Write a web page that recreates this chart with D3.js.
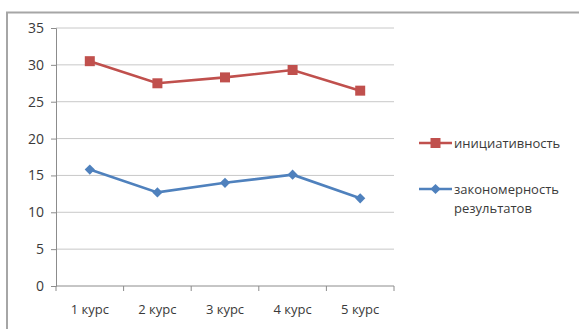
<!DOCTYPE html>
<html>
<head>
<meta charset="utf-8">
<script src="https://cdn.jsdelivr.net/npm/d3@7"></script>
<style>
  html, body { margin: 0; padding: 0; background: #fff; }
  svg { display: block; }
  text { font-family: "Open Sans", "Liberation Sans", sans-serif; fill: #3a3a3a; }
</style>
</head>
<body>
<svg id="chart" width="579" height="329"></svg>
<script>
const categories = ["1 курс", "2 курс", "3 курс", "4 курс", "5 курс"];
const initiative = [30.5, 27.5, 28.3, 29.3, 26.5];
const regularity = [15.8, 12.7, 14.0, 15.1, 11.9];
const yTicks = [0, 5, 10, 15, 20, 25, 30, 35];
const seriesNames = ["инициативность", ["закономерность", "результатов"]];

const svg = d3.select("#chart");
const W = 579, H = 329;
const plot = { left: 56, right: 394, top: 28, bottom: 286 };

// outer chart frame
svg.append("rect").attr("x", 7).attr("y", 12.5).attr("width", W + 10).attr("height", H + 10)
  .attr("fill", "#fff").attr("stroke", "#a6a6a6").attr("stroke-width", 2);

const x = d3.scaleBand().domain(categories).range([plot.left, plot.right]);
const y = d3.scaleLinear().domain([0, 35]).range([plot.bottom, plot.top]);

// horizontal gridlines
svg.append("g").selectAll("line").data(yTicks.filter(d => d > 0)).join("line")
  .attr("x1", plot.left).attr("x2", plot.right)
  .attr("y1", d => y(d)).attr("y2", d => y(d))
  .attr("stroke", "#c8c8c8").attr("stroke-width", 1);

// y axis
const yAxis = svg.append("g").attr("transform", `translate(${plot.left},0)`)
  .call(d3.axisLeft(y).tickValues(yTicks).tickSize(5).tickPadding(7));
yAxis.select(".domain").attr("stroke", "#8c8c8c");
yAxis.selectAll(".tick line").attr("stroke", "#8c8c8c");
yAxis.selectAll(".tick text").attr("font-size", 14).attr("fill", "#3a3a3a")
  .attr("font-family", '"Open Sans", "Liberation Sans", sans-serif');

// x axis with boundary ticks
const xg = svg.append("g").attr("transform", `translate(0,${plot.bottom})`);
xg.append("line").attr("x1", plot.left).attr("x2", plot.right).attr("y1", 0).attr("y2", 0)
  .attr("stroke", "#8c8c8c");
const bounds = categories.map(c => x(c)).concat([x(categories[categories.length - 1]) + x.bandwidth()]);
xg.selectAll(".tk").data(bounds).join("line").attr("class", "tk")
  .attr("x1", d => d).attr("x2", d => d).attr("y1", 0).attr("y2", 5)
  .attr("stroke", "#8c8c8c");
xg.selectAll("text").data(categories).join("text")
  .attr("x", d => x(d) + x.bandwidth() / 2).attr("y", 27.5)
  .attr("text-anchor", "middle").attr("font-size", 13).text(d => d);

const cx = d => x(d) + x.bandwidth() / 2;
const line = d3.line().x((d, i) => cx(categories[i])).y(d => y(d));

const red = "#c0504d", blue = "#4f81bd";

// series lines
svg.append("path").datum(initiative).attr("d", line)
  .attr("fill", "none").attr("stroke", red).attr("stroke-width", 2.6);
svg.append("path").datum(regularity).attr("d", line)
  .attr("fill", "none").attr("stroke", blue).attr("stroke-width", 2.6);

// markers: square and a square rotated 45 degrees
const square = d3.symbol().type(d3.symbolSquare).size(100);
const diamond = d3.symbol().type(d3.symbolSquare).size(52);
svg.append("g").selectAll("path").data(initiative).join("path")
  .attr("d", square)
  .attr("transform", (d, i) => `translate(${cx(categories[i])},${y(d)})`)
  .attr("fill", red);
svg.append("g").selectAll("path").data(regularity).join("path")
  .attr("d", diamond)
  .attr("transform", (d, i) => `translate(${cx(categories[i])},${y(d)}) rotate(45)`)
  .attr("fill", blue);

// legend
const lg = svg.append("g");
lg.append("line").attr("x1", 419).attr("x2", 452).attr("y1", 143).attr("y2", 143)
  .attr("stroke", red).attr("stroke-width", 2.6);
lg.append("path").attr("d", square).attr("transform", "translate(435.5,143)").attr("fill", red);
lg.append("text").attr("x", 454).attr("y", 147.5).attr("font-size", 13).text(seriesNames[0]);

lg.append("line").attr("x1", 419).attr("x2", 452).attr("y1", 189).attr("y2", 189)
  .attr("stroke", blue).attr("stroke-width", 2.6);
lg.append("path").attr("d", diamond).attr("transform", "translate(435.5,189) rotate(45)").attr("fill", blue);
lg.append("text").attr("x", 454).attr("y", 193.5).attr("font-size", 13).text(seriesNames[1][0]);
lg.append("text").attr("x", 454).attr("y", 213).attr("font-size", 13).text(seriesNames[1][1]);
</script>
</body>
</html>
